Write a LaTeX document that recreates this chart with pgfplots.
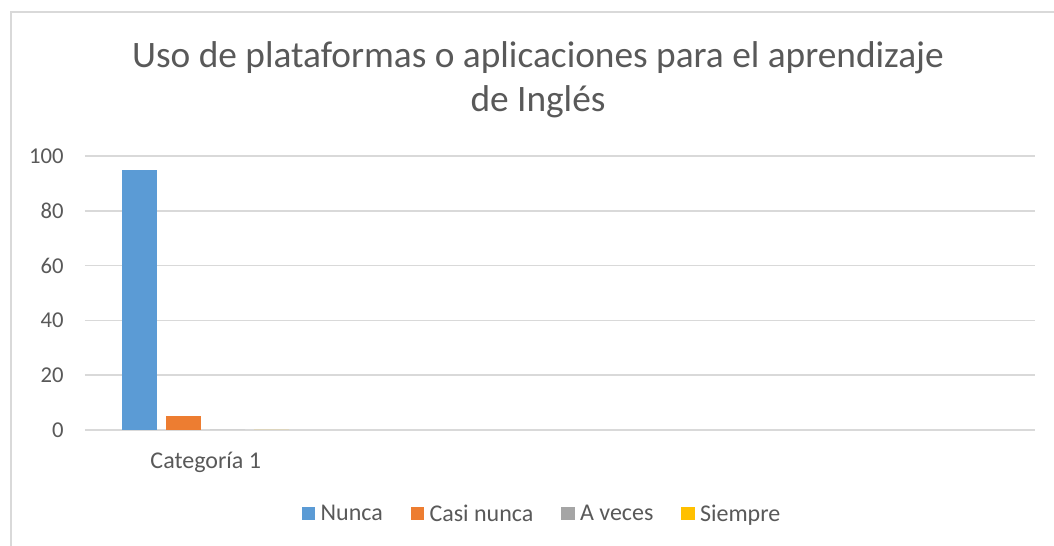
\documentclass[border=0pt]{standalone}
\usepackage{pgfplots}
\pgfplotsset{compat=1.18}
\usepackage{fontspec}
\setmainfont{Carlito}
\definecolor{cBlue}{HTML}{5B9BD5}
\definecolor{cOrange}{HTML}{ED7D31}
\definecolor{cGray}{HTML}{A5A5A5}
\definecolor{cYellow}{HTML}{FFC000}
\definecolor{cGrid}{HTML}{D9D9D9}
\definecolor{cText}{HTML}{595959}
\begin{document}
\begin{tikzpicture}
\useasboundingbox (0,0) rectangle (790.5pt,409.5pt);
\fill[white] (0,0) rectangle (790.5pt,409.5pt);
\draw[cGrid, line width=1.2pt] (8.25pt,0) -- (8.25pt,400.5pt) -- (790.5pt,400.5pt);
\node[text=cText, align=center, font=\fontsize{28}{33}\selectfont] at (403.5pt,349.5pt)
  {Uso de plataformas o aplicaciones para el aprendizaje\\de Inglés};
\begin{axis}[
  at={(63.75pt,87pt)}, anchor=south west,
  scale only axis, width=712.5pt, height=205.5pt,
  xmin=-0.5084, xmax=3.4916, ymin=0, ymax=100,
  ytick={0,20,...,100}, xtick={0}, xticklabels={Categoría 1},
  ymajorgrids, grid style={cGrid, line width=1.1pt},
  axis line style={draw=none},
  major tick length=0pt,
  tick label style={text=cText, font=\fontsize{17}{19}\selectfont},
  /pgf/number format/assume math mode=true,
  yticklabel style={xshift=-12.5pt},
  xticklabel style={yshift=-13pt, font=\fontsize{18}{21}\selectfont},
  ybar=6.75pt, bar width=26.25pt,
  legend columns=4,
  legend style={at={(0.4816,-0.3066)}, anchor=center, draw=none, fill=none,
    font=\fontsize{18}{21}\selectfont, text=cText,
    /tikz/every odd column/.append style={column sep=2pt},
    /tikz/every even column/.append style={column sep=19pt}},
  legend image code/.code={\fill[#1] (0pt,-4.5pt) rectangle (10pt,5.5pt);},
]
\addplot[fill=cBlue, draw=none] coordinates {(0,95)};
\addplot[fill=cOrange, draw=none] coordinates {(0,5)};
\addplot[fill=cGray, draw=none] coordinates {(0,0)};
\addplot[fill=cYellow, draw=none] coordinates {(0,0)};
\legend{Nunca, Casi nunca, A veces, Siempre}
\end{axis}
\end{tikzpicture}
\end{document}
